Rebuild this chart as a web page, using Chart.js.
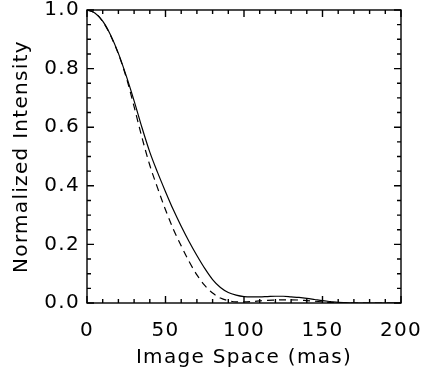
<!DOCTYPE html>
<html>
<head>
<meta charset="utf-8">
<script src="https://cdn.jsdelivr.net/npm/chart.js@4/dist/chart.umd.min.js"></script>
<style>
  html, body { margin: 0; padding: 0; background: #fff; }
  #wrap { width: 424px; height: 370px; }
</style>
</head>
<body>
<div id="wrap"><canvas id="c"></canvas></div>
<script>
  // x positions (mas)
  var xValues = [0, 5, 10, 15, 20, 25, 30, 35, 40, 45, 50, 55, 60, 65, 70, 75, 80, 85, 90, 95,
    100, 105, 110, 115, 120, 125, 130, 135, 140, 145, 150, 155, 160, 165, 170, 175, 180, 185, 190, 195, 200];

  // solid profile
  var solidValues = [1.0, 0.99, 0.962, 0.915, 0.852, 0.775, 0.69, 0.599, 0.515, 0.445, 0.38, 0.318,
    0.262, 0.21, 0.162, 0.118, 0.08, 0.053, 0.036, 0.027, 0.022, 0.021, 0.021, 0.022, 0.023, 0.023,
    0.021, 0.019, 0.016, 0.012, 0.008, 0.005, 0.002, 0.001, 0, 0, 0, 0, 0, 0, 0];

  // dashed profile
  var dashedValues = [1.0, 0.99, 0.961, 0.913, 0.85, 0.77, 0.67, 0.565, 0.47, 0.392, 0.318, 0.252,
    0.195, 0.142, 0.096, 0.06, 0.034, 0.017, 0.008, 0.004, 0.004, 0.005, 0.007, 0.009, 0.01, 0.011,
    0.011, 0.01, 0.008, 0.006, 0.004, 0.002, 0.001, 0, 0, 0, 0, 0, 0, 0, 0];

  var xLabelTicks = [0, 50, 100, 150, 200];
  var yLabelTicks = [0, 0.2, 0.4, 0.6, 0.8, 1.0];
  var xMinorStep = 10;
  var yMinorStep = 0.05;

  var FONT = 'DejaVu Sans';

  function pts(vals) {
    return xValues.map(function (x, i) { return { x: x, y: vals[i] }; });
  }

  function isMajor(v, list) {
    return list.some(function (t) { return Math.abs(t - v) < 1e-6; });
  }

  // wider text spacing, like the original plot font
  var spacingPlugin = {
    id: 'spacing',
    beforeDraw: function (chart) { chart.ctx.letterSpacing = '1.3px'; },
    afterDraw: function (chart) { chart.ctx.letterSpacing = '0px'; }
  };

  // frame + inward ticks on all four sides
  var framePlugin = {
    id: 'frame',
    afterDraw: function (chart) {
      var ctx = chart.ctx, a = chart.chartArea;
      var xs = chart.scales.x, ys = chart.scales.y;
      ctx.save();
      ctx.strokeStyle = '#000';
      ctx.lineWidth = 1.4;
      ctx.strokeRect(a.left, a.top, a.right - a.left, a.bottom - a.top);
      ctx.beginPath();
      xs.ticks.forEach(function (t) {
        var px = xs.getPixelForValue(t.value);
        var len = isMajor(t.value, xLabelTicks) ? 7 : 4;
        ctx.moveTo(px, a.bottom); ctx.lineTo(px, a.bottom - len);
        ctx.moveTo(px, a.top); ctx.lineTo(px, a.top + len);
      });
      ys.ticks.forEach(function (t) {
        var py = ys.getPixelForValue(t.value);
        var len = isMajor(t.value, yLabelTicks) ? 7 : 4;
        ctx.moveTo(a.left, py); ctx.lineTo(a.left + len, py);
        ctx.moveTo(a.right, py); ctx.lineTo(a.right - len, py);
      });
      ctx.stroke();
      ctx.restore();
    }
  };

  new Chart(document.getElementById('c'), {
    type: 'line',
    data: {
      datasets: [
        { data: pts(solidValues), borderColor: '#000', borderWidth: 1.2, pointRadius: 0,
          cubicInterpolationMode: 'monotone', fill: false },
        { data: pts(dashedValues), borderColor: '#000', borderWidth: 1.2, pointRadius: 0,
          borderDash: [7, 5], cubicInterpolationMode: 'monotone', fill: false }
      ]
    },
    options: {
      responsive: true,
      maintainAspectRatio: false,
      animation: false,
      layout: { padding: { top: 10, right: 23, left: 0, bottom: 0 } },
      plugins: { legend: { display: false }, tooltip: { enabled: false } },
      scales: {
        x: {
          type: 'linear', min: 0, max: 200,
          grid: { display: false, drawTicks: false },
          border: { display: false },
          ticks: {
            stepSize: xMinorStep, autoSkip: false, maxRotation: 0, padding: 16,
            color: '#000', font: { family: FONT, size: 20 },
            callback: function (v) { return isMajor(v, xLabelTicks) ? String(v) : ''; }
          },
          title: { display: true, text: 'Image Space (mas)', color: '#000',
            font: { family: FONT, size: 20 }, padding: 0 },
          afterFit: function (s) { s.height = 67; s.paddingLeft = 0; s.paddingRight = 0; }
        },
        y: {
          type: 'linear', min: 0, max: 1,
          grid: { display: false, drawTicks: false },
          border: { display: false },
          ticks: {
            stepSize: yMinorStep, autoSkip: false, padding: 7,
            color: '#000', font: { family: FONT, size: 20 },
            callback: function (v) { return isMajor(v, yLabelTicks) ? v.toFixed(1) : ''; }
          },
          title: { display: true, text: 'Normalized Intensity', color: '#000',
            font: { family: FONT, size: 20 }, padding: 10 },
          afterFit: function (s) { s.width = 87; s.paddingTop = 0; s.paddingBottom = 0; }
        }
      }
    },
    plugins: [spacingPlugin, framePlugin]
  });
</script>
</body>
</html>
